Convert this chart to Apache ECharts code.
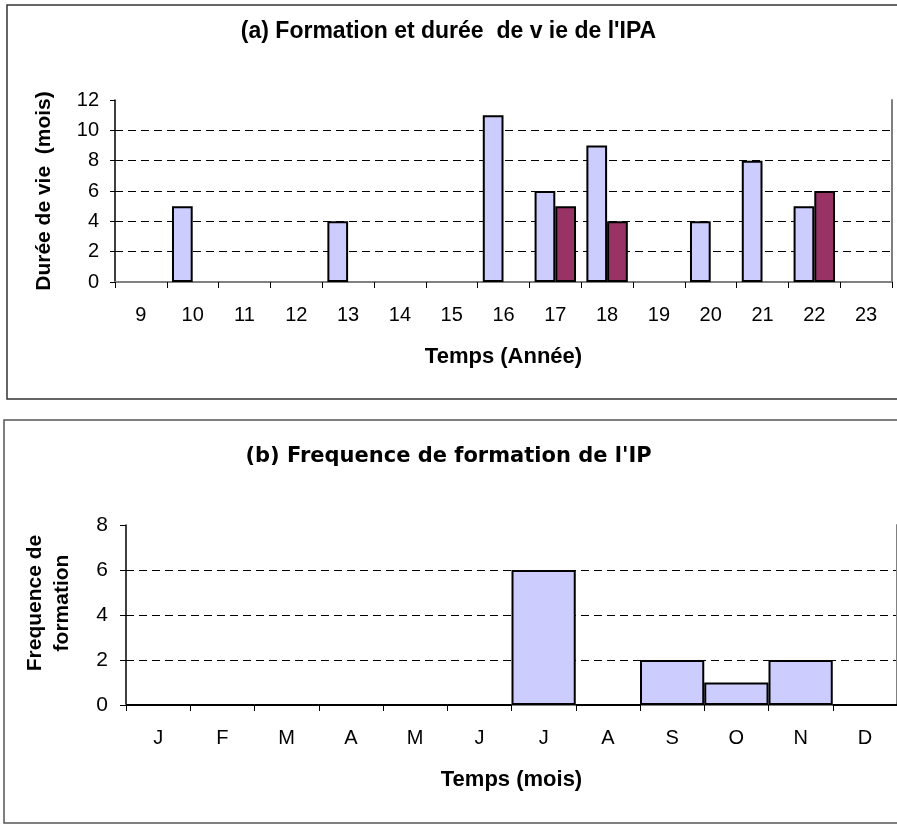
<!DOCTYPE html>
<html>
<head>
<meta charset="utf-8">
<script src="https://cdn.jsdelivr.net/npm/echarts@6/dist/echarts.min.js"></script>
<style>
  html, body { margin: 0; padding: 0; background: #fff; }
  #chart { width: 897px; height: 824px; }
</style>
</head>
<body>
<div id="chart"></div>
<script>
// (a) Formation and lifetime per year
const annees = ['9', '10', '11', '12', '13', '14', '15', '16', '17', '18', '19', '20', '21', '22', '23'];
const dureeClair = ['-', 5, '-', '-', 4, '-', '-', 11, 6, 9, '-', 4, 8, 5, '-'];
const dureeFonce = ['-', '-', '-', '-', '-', '-', '-', '-', 5, 4, '-', '-', '-', 6, '-'];
const ticksDuree = { min: 0, max: 12, interval: 2 };

// (b) Formation frequency per month
const mois = ['J', 'F', 'M', 'A', 'M', 'J', 'J', 'A', 'S', 'O', 'N', 'D'];
const frequence = [0, 0, 0, 0, 0, 0, 6, 0, 2, 1, 2, 0];
const ticksFreq = { min: 0, max: 8, interval: 2 };

const SANS = "'Liberation Sans', Arial, sans-serif";
const WIDE = "'DejaVu Sans', Verdana, sans-serif";

const chart = echarts.init(document.getElementById('chart'), null, { renderer: 'canvas' });

function gridDashes(count) {
  // dashed black lines, the top one hidden so the grey frame shows
  const c = [];
  for (let i = 0; i < count; i++) c.push(i === count - 1 ? 'rgba(0,0,0,0)' : '#000');
  return c;
}

const baseX = {
  type: 'category',
  axisLine: { show: true, lineStyle: { color: '#000', width: 1.5 } },
  axisTick: { show: true, length: 6, lineStyle: { color: '#000', width: 1 } },
  axisLabel: { color: '#000', fontFamily: SANS, fontSize: 20, margin: 23 },
  splitLine: { show: false },
  nameLocation: 'middle',
  nameTextStyle: { color: '#000', fontFamily: SANS, fontSize: 22, fontWeight: 'bold' }
};

const frameX = {
  type: 'category', position: 'top',
  axisLine: { show: true, lineStyle: { color: '#808080', width: 2 } },
  axisTick: { show: false }, axisLabel: { show: false }, splitLine: { show: false }
};
const frameY = {
  type: 'value', position: 'right',
  axisLine: { show: true, lineStyle: { color: '#808080', width: 2 } },
  axisTick: { show: false }, axisLabel: { show: false }, splitLine: { show: false }
};

const option = {
  animation: false,
  backgroundColor: '#fff',
  title: [
    {
      text: "(a) Formation et durée  de v ie de l'IPA",
      left: 'center', top: 15,
      textStyle: { color: '#000', fontFamily: SANS, fontSize: 23, fontWeight: 'bold' }
    },
    {
      text: "(b) Frequence de formation de l'IP",
      left: 'center', top: 441,
      textStyle: { color: '#000', fontFamily: WIDE, fontSize: 21, fontWeight: 'bold' }
    }
  ],
  graphic: [
    { type: 'rect', shape: { x: 7, y: 5, width: 900, height: 394 }, style: { fill: 'none', stroke: '#333', lineWidth: 1.5 }, z: -1 },
    { type: 'rect', shape: { x: 4, y: 420, width: 900, height: 403 }, style: { fill: 'none', stroke: '#555', lineWidth: 1.5 }, z: -1 }
  ],
  grid: [
    { left: 115, top: 100, width: 777, height: 182 },
    { left: 126, top: 525, width: 774, height: 180 }
  ],
  xAxis: [
    Object.assign({}, baseX, { gridIndex: 0, data: annees, name: 'Temps (Année)', nameGap: 64 }),
    Object.assign({}, frameX, { gridIndex: 0, data: annees }),
    Object.assign({}, baseX, { gridIndex: 1, data: mois, name: 'Temps (mois)', nameGap: 64 }),
    Object.assign({}, frameX, { gridIndex: 1, data: mois })
  ],
  yAxis: [
    {
      gridIndex: 0, type: 'value',
      min: ticksDuree.min, max: ticksDuree.max, interval: ticksDuree.interval,
      axisLine: { show: true, lineStyle: { color: '#000', width: 1.5 } },
      axisTick: { show: true, length: 5, lineStyle: { color: '#000', width: 1 } },
      axisLabel: { color: '#000', fontFamily: SANS, fontSize: 20, margin: 16 },
      splitLine: { show: true, lineStyle: { color: gridDashes(7), type: [8, 5], width: 1 } },
      name: 'Durée de vie  (mois)', nameLocation: 'middle', nameRotate: 90, nameGap: 60,
      nameTextStyle: { color: '#000', fontFamily: SANS, fontSize: 21, fontWeight: 'bold' }
    },
    Object.assign({}, frameY, { gridIndex: 0, min: ticksDuree.min, max: ticksDuree.max }),
    {
      gridIndex: 1, type: 'value',
      min: ticksFreq.min, max: ticksFreq.max, interval: ticksFreq.interval,
      axisLine: { show: true, lineStyle: { color: '#000', width: 1.5 } },
      axisTick: { show: true, length: 6, lineStyle: { color: '#000', width: 1 } },
      axisLabel: { color: '#000', fontFamily: SANS, fontSize: 21, margin: 18 },
      splitLine: { show: true, lineStyle: { color: gridDashes(5), type: [8, 5], width: 1 } },
      name: 'Frequence de\nformation', nameLocation: 'middle', nameRotate: 90, nameGap: 50,
      nameTextStyle: { color: '#000', fontFamily: SANS, fontSize: 21, fontWeight: 'bold', lineHeight: 27, align: 'center', padding: [0, 0, 0, 24] }
    },
    Object.assign({}, frameY, { gridIndex: 1, min: ticksFreq.min, max: ticksFreq.max })
  ],
  series: [
    {
      type: 'bar', xAxisIndex: 0, yAxisIndex: 0, data: dureeClair,
      barGap: '0%', barCategoryGap: '20%',
      itemStyle: { color: '#CCCCFF', borderColor: '#000', borderWidth: 2 }
    },
    {
      type: 'bar', xAxisIndex: 0, yAxisIndex: 0, data: dureeFonce,
      barGap: '0%', barCategoryGap: '20%',
      itemStyle: { color: '#993366', borderColor: '#000', borderWidth: 2 }
    },
    {
      type: 'bar', xAxisIndex: 2, yAxisIndex: 2, data: frequence,
      barCategoryGap: '0%',
      itemStyle: { color: '#CCCCFF', borderColor: '#000', borderWidth: 2 }
    }
  ]
};

chart.setOption(option);
</script>
</body>
</html>
